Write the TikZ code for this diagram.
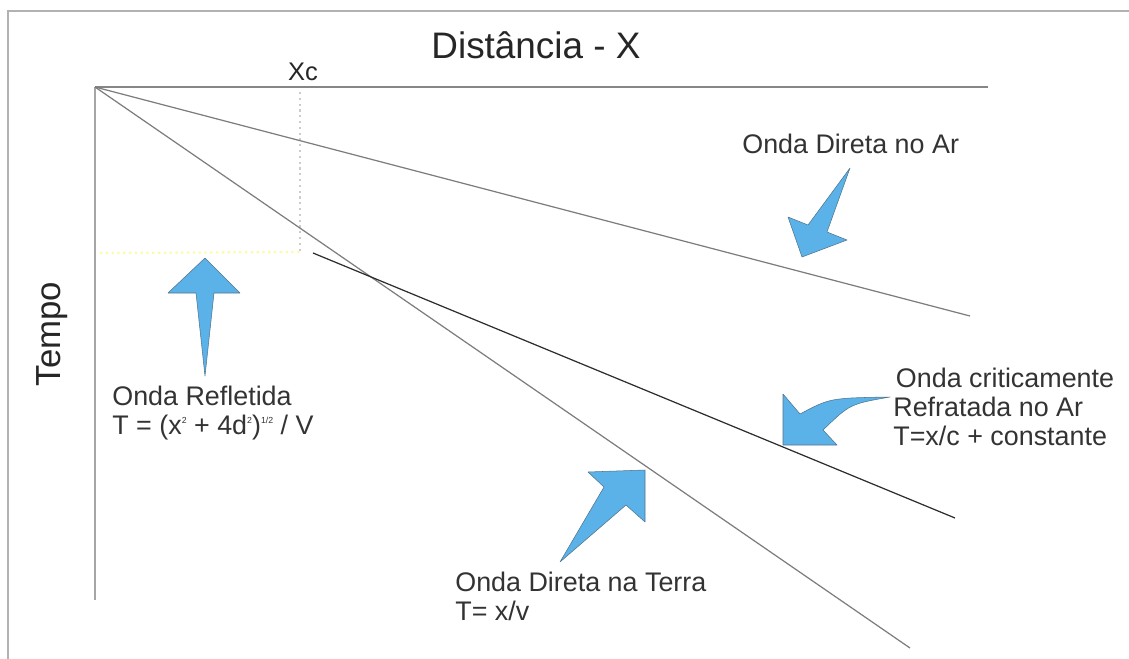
\documentclass[tikz,border=0pt]{standalone}
\usepackage{fontspec}
\setmainfont{Liberation Sans}
\usepackage{tikz}
\usetikzlibrary{positioning,calc}

\definecolor{arrowblue}{RGB}{90,178,232}
\definecolor{arrowedge}{RGB}{80,115,140}
\definecolor{linegray}{RGB}{125,125,125}
\newcommand{\tinysup}[1]{\raisebox{0.8ex}{\fontsize{5}{5}\selectfont #1}}

\begin{document}
\begin{tikzpicture}[
  x=0.02cm, y=-0.02cm,
  axis/.style={draw=gray!95, line width=1.1pt},
  wave/.style={draw=linegray, line width=0.7pt},
  guide/.style={dotted, line width=1.3pt},
  blockar/.style={fill=arrowblue, draw=arrowedge, line width=0.3pt, line join=round},
  lbl/.style={inner sep=0pt, align=left, anchor=west, text=black!80,
              font=\fontsize{15.3}{16.6}\selectfont}
]
\useasboundingbox (0,0) rectangle (1129,659);
% frame
\draw[gray!60, line width=0.8pt] (1129,11) -- (8,11) -- (8,659);
% axes
\coordinate (O) at (95,87);
\coordinate (xend) at (988,87);
\coordinate (tend) at (95,600);
\draw[axis] (O) -- (xend);
\draw[axis, draw=gray!70, line width=0.8pt] (O) -- (tend);
\node[inner sep=0pt, text=black!85, font=\fontsize{21}{24}\selectfont] (titulo) at (536,45) {Distância - X};
\node[inner sep=0pt, rotate=90, text=black!85, font=\fontsize{19.8}{22}\selectfont] (tempo) at (52,334) {Tempo};
% critical distance
\coordinate (xctop) at (300,92);
\coordinate (xcbot) at (300,252);
\coordinate (tcleft) at (100,253);
\node[inner sep=0pt, text=black!85, font=\fontsize{14.5}{16}\selectfont] (xc) at (303,72) {Xc};
\draw[guide, gray!40] (xctop) -- (xcbot);
\draw[guide, yellow!35] (tcleft) -- (xcbot);
% travel time lines
\coordinate (arEnd) at (970,316);
\coordinate (terraEnd) at (910,648);
\coordinate (refrStart) at (313,253);
\coordinate (refrEnd) at (955,518);
\draw[wave] (O) -- (arEnd);
\draw[wave] (O) -- (terraEnd);
\draw[wave, draw=gray!35!black] (refrStart) -- (refrEnd);
% block arrows
\path[blockar] (205,258) -- (240,293) -- (214,293) -- (205,376) -- (196,293) -- (168,293) -- cycle;
\path[blockar] (802,257) -- (788,217) -- (808,225) -- (850,168) -- (827,232) -- (847,240) -- cycle;
\path[blockar] (783,445) -- (783,394) -- (800,414) .. controls (830,398) .. (890,397)
  .. controls (850,404) .. (823,430) -- (837,445) -- cycle;
\path[blockar] (645,470) -- (645,522) -- (626,505) -- (560,562) -- (604,487) -- (588,472) -- cycle;
% labels
\node[lbl] (lblAr) at (742,144) {Onda Direta no Ar};
\node[lbl] (lblRefl) at (112,413) {Onda Refletida\\T = (x\tinysup{2} + 4d\tinysup{2})\tinysup{1/2} / V};
\node[lbl] (lblRefr) at (893,407) {\hspace{1.5pt}Onda criticamente\\Refratada no Ar\\T=x/c + constante};
\node[lbl] (lblTerra) at (455,596) {Onda Direta na Terra\\T= x/v};
\end{tikzpicture}
\end{document}
